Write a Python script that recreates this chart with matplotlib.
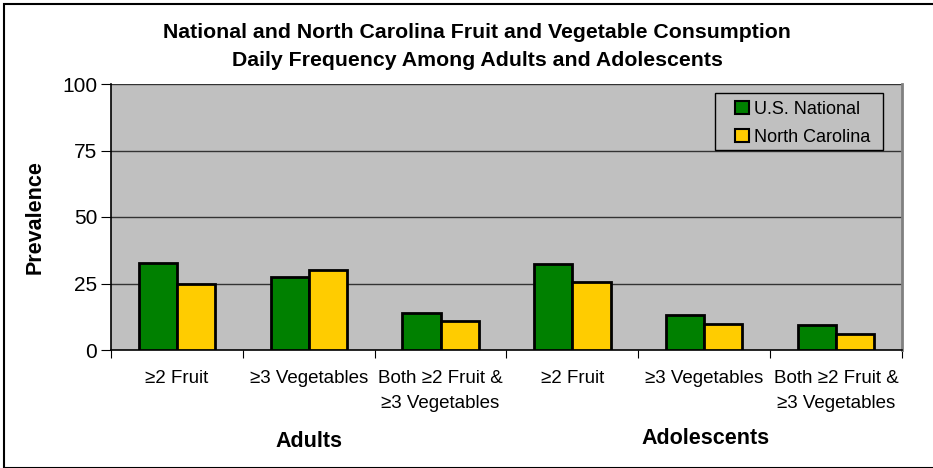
import matplotlib.pyplot as plt
import numpy as np
from matplotlib.patches import Rectangle

plt.rcParams['font.family'] = ['Liberation Sans', 'DejaVu Sans']

categories = ['\u22652 Fruit', '\u22653 Vegetables', 'Both \u22652 Fruit &\n\u22653 Vegetables',
              '\u22652 Fruit', '\u22653 Vegetables', 'Both \u22652 Fruit &\n\u22653 Vegetables']
groups = ['Adults', 'Adolescents']
national = [32.8, 27.4, 14.0, 32.2, 13.2, 9.4]
carolina = [25.0, 30.0, 10.9, 25.4, 9.7, 6.0]

fig = plt.figure(figsize=(9.33, 4.68), dpi=100)
ax = fig.add_axes([111 / 933, 1 - 350 / 468, 791 / 933, 266 / 468])

x = np.arange(len(categories))
w = 0.29
ax.bar(x - w / 2, national, w, color='#008000', edgecolor='black', linewidth=2,
       label='U.S. National', zorder=3)
ax.bar(x + w / 2, carolina, w, color='#FFCC00', edgecolor='black', linewidth=2,
       label='North Carolina', zorder=3)

ax.set_facecolor('#C0C0C0')
ax.set_xlim(-0.5, len(categories) - 0.5)
ax.set_ylim(0, 100)
ax.set_yticks([0, 25, 50, 75, 100])
ax.tick_params(axis='y', labelsize=15, length=7, direction='out', pad=3)
for yv in [25, 50, 75, 100]:
    ax.axhline(yv, color='#333333', linewidth=1, zorder=1)

# category labels, ticks between categories
ax.set_xticks(np.arange(len(categories) + 1) - 0.5)
ax.set_xticklabels([])
ax.tick_params(axis='x', length=6, direction='out')
for i, c in enumerate(categories):
    ax.text(i, -7.5, c, ha='center', va='top', fontsize=13.5, linespacing=1.6)

ax.text(1.0, -30.5, groups[0], ha='center', va='top', fontsize=15.5, fontweight='bold')
ax.text(4.01, -29.5, groups[1], ha='center', va='top', fontsize=15.5, fontweight='bold')

ax.set_ylabel('Prevalence', fontsize=15.5, fontweight='bold', labelpad=12)

ax.spines['top'].set_visible(False)
ax.spines['right'].set_color('#808080')
ax.spines['right'].set_linewidth(2)
ax.spines['left'].set_linewidth(1.2)
ax.spines['bottom'].set_linewidth(1.2)

# legend box drawn separately to get the wide padding
ax.add_patch(Rectangle((0.7636, 0.752), 0.2124, 0.214, transform=ax.transAxes,
                       facecolor='#C0C0C0', edgecolor='black', linewidth=1, zorder=4))
leg = ax.legend(loc='upper left', bbox_to_anchor=(0.789, 0.937), borderaxespad=0,
                borderpad=0, fontsize=13, frameon=False, handlelength=0.75,
                handleheight=0.75, handletextpad=0.3, labelspacing=0.62)
leg.set_zorder(5)
for h in leg.legend_handles:
    h.set_linewidth(1.5)

fig.text(477 / 933, 1 - 32 / 468, 'National and North Carolina Fruit and Vegetable Consumption',
         ha='center', va='center', fontsize=15.3, fontweight='bold')
fig.text(477 / 933, 1 - 60 / 468, 'Daily Frequency Among Adults and Adolescents',
         ha='center', va='center', fontsize=15.3, fontweight='bold')

fig.patches.append(Rectangle((4 / 933, 0), 1.2, 1 - 4 / 468, transform=fig.transFigure,
                             fill=False, edgecolor='black', linewidth=1.5))

fig.savefig('out.png', dpi=100)
